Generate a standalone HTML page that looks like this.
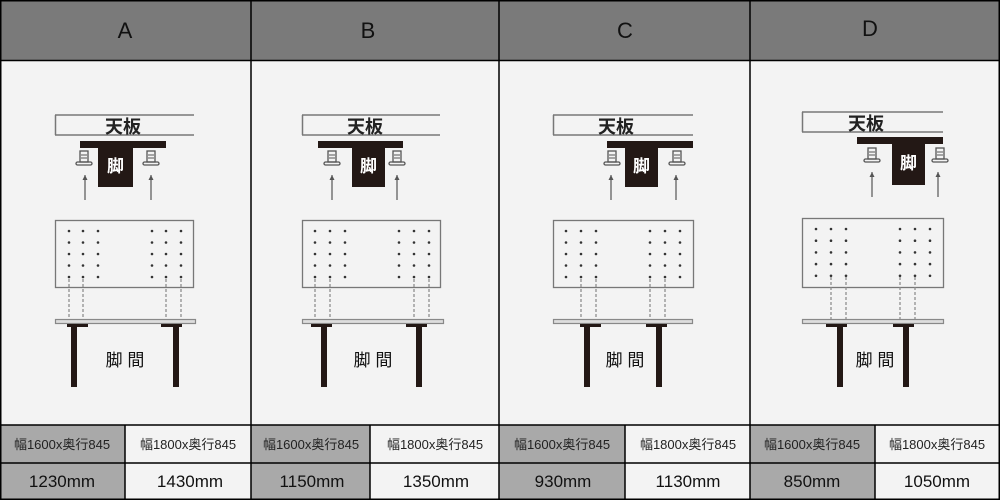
<!DOCTYPE html>
<html><head><meta charset="utf-8"><style>
html,body{margin:0;padding:0;background:#f3f3f3;}
svg{display:block;}
text{font-family:"Liberation Sans","Noto Sans CJK JP",sans-serif;}
</style></head><body>
<svg width="1000" height="500" viewBox="0 0 1000 500" xmlns="http://www.w3.org/2000/svg">
<rect x="0" y="0" width="1000" height="500" fill="#f3f3f3"/>
<rect x="0" y="0" width="1000" height="60" fill="#7a7a7a"/>
<!-- table gray cells -->
<rect x="0" y="425" width="125" height="75" fill="#a9a9a9"/>
<rect x="251" y="425" width="119" height="75" fill="#a9a9a9"/>
<rect x="499" y="425" width="126" height="75" fill="#a9a9a9"/>
<rect x="750" y="425" width="125" height="75" fill="#a9a9a9"/>
<g stroke="#000" stroke-width="1.5" fill="none">
<rect x="0.75" y="0.75" width="998.5" height="498.5"/>
<line x1="0" y1="60.5" x2="1000" y2="60.5"/>
<line x1="251" y1="0" x2="251" y2="500"/>
<line x1="499" y1="0" x2="499" y2="500"/>
<line x1="750" y1="0" x2="750" y2="500"/>
<line x1="0" y1="425" x2="1000" y2="425"/>
<line x1="0" y1="463" x2="1000" y2="463"/>
<line x1="125" y1="425" x2="125" y2="500"/>
<line x1="370" y1="425" x2="370" y2="500"/>
<line x1="625" y1="425" x2="625" y2="500"/>
<line x1="875" y1="425" x2="875" y2="500"/>
</g>
<g font-size="22" text-anchor="middle" fill="#111">
<text x="125" y="38">A</text><text x="368" y="38">B</text><text x="625" y="38">C</text><text x="870" y="36">D</text>
</g>
<g font-size="13" text-anchor="middle" fill="#222">
<text x="62" y="449">幅1600x奥行845</text><text x="188" y="449">幅1800x奥行845</text>
<text x="311" y="449">幅1600x奥行845</text><text x="435" y="449">幅1800x奥行845</text>
<text x="562" y="449">幅1600x奥行845</text><text x="688" y="449">幅1800x奥行845</text>
<text x="812" y="449">幅1600x奥行845</text><text x="937" y="449">幅1800x奥行845</text>
</g>
<g font-size="17" text-anchor="middle" fill="#111">
<text x="62" y="487">1230mm</text><text x="190" y="487">1430mm</text>
<text x="312" y="487">1150mm</text><text x="436" y="487">1350mm</text>
<text x="563" y="487">930mm</text><text x="688" y="487">1130mm</text>
<text x="812" y="487">850mm</text><text x="937" y="487">1050mm</text>
</g>

<!-- Panel A -->
<g>
<g stroke="#777" stroke-width="1.5" fill="none"><line x1="55" y1="115" x2="194" y2="115"/><line x1="55" y1="135" x2="194" y2="135"/><line x1="55.5" y1="115" x2="55.5" y2="135"/></g>
<text x="123" y="133" font-size="18" font-weight="bold" text-anchor="middle" fill="#222">天板</text>
<rect x="80" y="141" width="86" height="7" fill="#231815"/><rect x="98" y="148" width="35" height="39" fill="#231815"/>
<text x="115.5" y="172" font-size="17" font-weight="bold" text-anchor="middle" fill="#fff">脚</text>
</g>
<!-- Panel B -->
<g>
<g stroke="#777" stroke-width="1.5" fill="none"><line x1="302" y1="115" x2="440" y2="115"/><line x1="302" y1="135" x2="440" y2="135"/><line x1="302.5" y1="115" x2="302.5" y2="135"/></g>
<text x="365" y="133" font-size="18" font-weight="bold" text-anchor="middle" fill="#222">天板</text>
<rect x="318" y="141" width="85" height="7" fill="#231815"/><rect x="352" y="148" width="33" height="39" fill="#231815"/>
<text x="368.5" y="172" font-size="17" font-weight="bold" text-anchor="middle" fill="#fff">脚</text>
</g>
<!-- Panel C -->
<g>
<g stroke="#777" stroke-width="1.5" fill="none"><line x1="553" y1="115" x2="693" y2="115"/><line x1="553" y1="135" x2="693" y2="135"/><line x1="553.5" y1="115" x2="553.5" y2="135"/></g>
<text x="616" y="133" font-size="18" font-weight="bold" text-anchor="middle" fill="#222">天板</text>
<rect x="607" y="141" width="86" height="7" fill="#231815"/><rect x="625" y="148" width="33" height="39" fill="#231815"/>
<text x="641.5" y="172" font-size="17" font-weight="bold" text-anchor="middle" fill="#fff">脚</text>
</g>
<!-- Panel D -->
<g>
<g stroke="#777" stroke-width="1.5" fill="none"><line x1="802" y1="112" x2="943" y2="112"/><line x1="802" y1="132" x2="943" y2="132"/><line x1="802.5" y1="112" x2="802.5" y2="132"/></g>
<text x="866" y="130" font-size="18" font-weight="bold" text-anchor="middle" fill="#222">天板</text>
<rect x="857" y="137" width="86" height="7" fill="#231815"/><rect x="892" y="144" width="33" height="41" fill="#231815"/>
<text x="908.5" y="169" font-size="17" font-weight="bold" text-anchor="middle" fill="#fff">脚</text>
</g>

<!-- bolts and arrows: generic defs -->
<defs>
<g id="bolt"><rect x="-4" y="0" width="8" height="11" fill="none" stroke="#555" stroke-width="1.3"/><line x1="-3" y1="4" x2="3" y2="4" stroke="#555"/><line x1="-3" y1="7" x2="3" y2="7" stroke="#555"/><rect x="-8" y="11" width="16" height="3" rx="1.5" fill="none" stroke="#555" stroke-width="1.3"/></g>
<g id="arrow"><line x1="0" y1="0" x2="0" y2="25" stroke="#555" stroke-width="1.2"/><path d="M-2.5,5 L0,0 L2.5,5 Z" fill="#555"/></g>
</defs>
<use href="#bolt" x="84" y="151"/><use href="#bolt" x="151" y="151"/>
<use href="#arrow" x="85" y="175"/><use href="#arrow" x="151" y="175"/>
<use href="#bolt" x="332" y="151"/><use href="#bolt" x="397" y="151"/>
<use href="#arrow" x="332" y="175"/><use href="#arrow" x="397" y="175"/>
<use href="#bolt" x="612" y="151"/><use href="#bolt" x="677" y="151"/>
<use href="#arrow" x="611" y="175"/><use href="#arrow" x="676" y="175"/>
<use href="#bolt" x="872" y="148"/><use href="#bolt" x="940" y="148"/>
<use href="#arrow" x="872" y="172"/><use href="#arrow" x="938" y="172"/>

<!-- plates -->
<g stroke="#777" stroke-width="1.3" fill="none">
<rect x="55.5" y="220.5" width="138" height="67"/>
<rect x="302.5" y="220.5" width="138" height="67"/>
<rect x="553.5" y="220.5" width="140" height="67"/>
<rect x="802.5" y="218.5" width="141" height="69"/>
</g>
<g fill="#333">
<!-- A dots -->
<g id="dA">
<circle cx="69" cy="231" r="1.3"/><circle cx="83" cy="231" r="1.3"/><circle cx="98" cy="231" r="1.3"/><circle cx="152" cy="231" r="1.3"/><circle cx="166" cy="231" r="1.3"/><circle cx="181" cy="231" r="1.3"/>
</g>
<use href="#dA" y="11.5"/><use href="#dA" y="23"/><use href="#dA" y="34.5"/><use href="#dA" y="46"/>
<g id="dB">
<circle cx="315" cy="231" r="1.3"/><circle cx="330" cy="231" r="1.3"/><circle cx="345" cy="231" r="1.3"/><circle cx="399" cy="231" r="1.3"/><circle cx="414" cy="231" r="1.3"/><circle cx="429" cy="231" r="1.3"/>
</g>
<use href="#dB" y="11.5"/><use href="#dB" y="23"/><use href="#dB" y="34.5"/><use href="#dB" y="46"/>
<g id="dC">
<circle cx="566" cy="231" r="1.3"/><circle cx="581" cy="231" r="1.3"/><circle cx="596" cy="231" r="1.3"/><circle cx="650" cy="231" r="1.3"/><circle cx="665" cy="231" r="1.3"/><circle cx="680" cy="231" r="1.3"/>
</g>
<use href="#dC" y="11.5"/><use href="#dC" y="23"/><use href="#dC" y="34.5"/><use href="#dC" y="46"/>
<g id="dD">
<circle cx="816" cy="229" r="1.3"/><circle cx="831" cy="229" r="1.3"/><circle cx="846" cy="229" r="1.3"/><circle cx="900" cy="229" r="1.3"/><circle cx="915" cy="229" r="1.3"/><circle cx="930" cy="229" r="1.3"/>
</g>
<use href="#dD" y="11.7"/><use href="#dD" y="23.4"/><use href="#dD" y="35.1"/><use href="#dD" y="46.8"/>
</g>
<!-- dashed -->
<g stroke="#888" stroke-width="1.2" stroke-dasharray="3,2" fill="none">
<line x1="69" y1="279" x2="69" y2="320"/><line x1="83" y1="279" x2="83" y2="320"/><line x1="166" y1="279" x2="166" y2="320"/><line x1="181" y1="279" x2="181" y2="320"/>
<line x1="315" y1="279" x2="315" y2="320"/><line x1="330" y1="279" x2="330" y2="320"/><line x1="414" y1="279" x2="414" y2="320"/><line x1="429" y1="279" x2="429" y2="320"/>
<line x1="581" y1="279" x2="581" y2="320"/><line x1="596" y1="279" x2="596" y2="320"/><line x1="650" y1="279" x2="650" y2="320"/><line x1="665" y1="279" x2="665" y2="320"/>
<line x1="831" y1="277" x2="831" y2="320"/><line x1="846" y1="277" x2="846" y2="320"/><line x1="900" y1="277" x2="900" y2="320"/><line x1="915" y1="277" x2="915" y2="320"/>
</g>
<!-- rails -->
<g stroke="#888" stroke-width="1.2" fill="#ddd">
<rect x="55.5" y="319.5" width="140" height="4"/>
<rect x="302.5" y="319.5" width="141" height="4"/>
<rect x="553.5" y="319.5" width="139" height="4"/>
<rect x="802.5" y="319.5" width="141" height="4"/>
</g>
<!-- legs -->
<g fill="#231815">
<rect x="67" y="324" width="21" height="3"/><rect x="71" y="327" width="6" height="60"/>
<rect x="161" y="324" width="21" height="3"/><rect x="173" y="327" width="6" height="60"/>
<rect x="311" y="324" width="21" height="3"/><rect x="321" y="327" width="6" height="60"/>
<rect x="406" y="324" width="21" height="3"/><rect x="416" y="327" width="6" height="60"/>
<rect x="580" y="324" width="21" height="3"/><rect x="584" y="327" width="6" height="60"/>
<rect x="646" y="324" width="21" height="3"/><rect x="656" y="327" width="6" height="60"/>
<rect x="826" y="324" width="21" height="3"/><rect x="837" y="327" width="6" height="60"/>
<rect x="893" y="324" width="21" height="3"/><rect x="903" y="327" width="6" height="60"/>
</g>
<g font-size="17" text-anchor="middle" fill="#111">
<text x="125" y="366">脚 間</text><text x="373" y="366">脚 間</text><text x="625" y="366">脚 間</text><text x="875" y="366">脚 間</text>
</g>
</svg>
</body></html>
